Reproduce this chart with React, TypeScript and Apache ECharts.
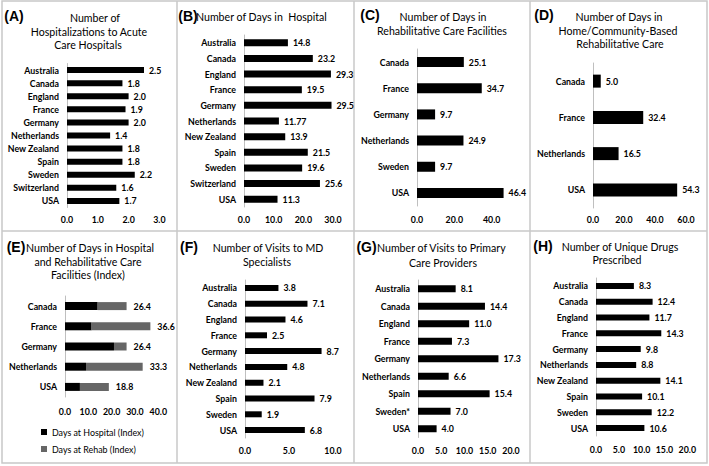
import React, { useEffect, useRef } from "react";
import * as echarts from "echarts";

// ---------- data ----------
const catsA = ["Australia", "Canada", "England", "France", "Germany", "Netherlands", "New Zealand", "Spain", "Sweden", "Switzerland", "USA"];
const hospitalizations = [2.5, 1.8, 2.0, 1.9, 2.0, 1.4, 1.8, 1.8, 2.2, 1.6, 1.7];

const catsB = ["Australia", "Canada", "England", "France", "Germany", "Netherlands", "New Zealand", "Spain", "Sweden", "Switzerland", "USA"];
const hospitalDays = [14.8, 23.2, 29.3, 19.5, 29.5, 11.77, 13.9, 21.5, 19.6, 25.6, 11.3];

const catsC = ["Canada", "France", "Germany", "Netherlands", "Sweden", "USA"];
const rehabFacilityDays = [25.1, 34.7, 9.7, 24.9, 9.7, 46.4];

const catsD = ["Canada", "France", "Netherlands", "USA"];
const homeRehabDays = [5.0, 32.4, 16.5, 54.3];

const catsE = ["Canada", "France", "Germany", "Netherlands", "USA"];
const hospIndex = [14.0, 11.4, 21.0, 9.0, 6.4];
const rehabIndex = [12.4, 25.2, 5.4, 24.3, 12.4];
const totalIndex = [26.4, 36.6, 26.4, 33.3, 18.8];
const seriesNamesE = ["Days at Hospital (Index)", "Days at Rehab (Index)"];

const catsF = ["Australia", "Canada", "England", "France", "Germany", "Netherlands", "New Zealand", "Spain", "Sweden", "USA"];
const specialistVisits = [3.8, 7.1, 4.6, 2.5, 8.7, 4.8, 2.1, 7.9, 1.9, 6.8];

const catsG = ["Australia", "Canada", "England", "France", "Germany", "Netherlands", "Spain", "Sweden*", "USA"];
const primaryVisits = [8.1, 14.4, 11.0, 7.3, 17.3, 6.6, 15.4, 7.0, 4.0];

const catsH = ["Australia", "Canada", "England", "France", "Germany", "Netherlands", "New Zealand", "Spain", "Sweden", "USA"];
const uniqueDrugs = [8.3, 12.4, 11.7, 14.3, 9.8, 8.8, 14.1, 10.1, 12.2, 10.6];

// ---------- styling ----------
const FAMILY = "Lato, 'Liberation Sans', sans-serif";
const LETTER_FONT = "bold 14px 'Liberation Sans', Arial, sans-serif";
const TITLE_SIZE = 12;

function measure(text: string, weight: string, size: number) {
  const c = document.createElement("canvas").getContext("2d");
  if (!c) return text.length * size * 0.5;
  c.font = `${weight} ${size}px ${FAMILY}`;
  return c.measureText(text).width;
}

type Panel = {
  cats: string[];
  grid: { left: number; top: number; width: number; height: number };
  max: number;
  interval: number;
  labelEvery: number;
  labelMargin: number;
  barWidth: number;
};

const panels: Panel[] = [
  { cats: catsA, grid: { left: 67, top: 63.5, width: 92.4, height: 144 }, max: 3, interval: 1, labelEvery: 1, labelMargin: 7.5, barWidth: 6 },
  { cats: catsB, grid: { left: 244, top: 35, width: 89, height: 172 }, max: 30, interval: 10, labelEvery: 10, labelMargin: 8, barWidth: 7 },
  { cats: catsC, grid: { left: 417, top: 49, width: 93.3, height: 157 }, max: 50, interval: 10, labelEvery: 20, labelMargin: 9, barWidth: 10 },
  { cats: catsD, grid: { left: 593, top: 63, width: 93, height: 145 }, max: 60, interval: 20, labelEvery: 20, labelMargin: 7, barWidth: 13 },
  { cats: catsE, grid: { left: 65, top: 296, width: 93.3, height: 101 }, max: 40, interval: 10, labelEvery: 10, labelMargin: 10, barWidth: 8 },
  { cats: catsF, grid: { left: 245, top: 280, width: 88, height: 158 }, max: 10, interval: 5, labelEvery: 5, labelMargin: 8, barWidth: 6 },
  { cats: catsG, grid: { left: 418, top: 280, width: 93, height: 157.5 }, max: 20, interval: 5, labelEvery: 5, labelMargin: 8.5, barWidth: 7 },
  { cats: catsH, grid: { left: 596, top: 278, width: 91.3, height: 158 }, max: 20, interval: 5, labelEvery: 5, labelMargin: 9, barWidth: 6 },
];

const fmtVal = (v: number) => (Math.round(v * 10) / 10 === v ? v.toFixed(1) : String(v));

// title texts: [text, x, y, align]
const titleLines: [string, number, number, string][] = [
  ["Number of", 95, 17, "center"],
  ["Hospitalizations to Acute", 89, 31.5, "center"],
  ["Care Hospitals", 88, 44.5, "center"],
  ["Number of Days in  Hospital", 196, 16, "left"],
  ["Number of Days in", 443, 16, "center"],
  ["Rehabilitative Care Facilities", 442, 30, "center"],
  ["Number of Days in", 619, 16, "center"],
  ["Home/Community-Based", 618, 30, "center"],
  ["Rehabilitative Care", 620, 43, "center"],
  ["Number of Days in Hospital", 26, 247, "left"],
  ["and Rehabilitative Care", 88, 261, "center"],
  ["Facilities (Index)", 88, 274, "center"],
  ["Number of Visits to MD", 268, 247, "center"],
  ["Specialists", 267, 261, "center"],
  ["Number of Visits to Primary", 377, 247, "left"],
  ["Care Providers", 443, 262, "center"],
  ["Number of Unique Drugs", 620, 246, "center"],
  ["Prescribed", 617, 259, "center"],
];

const letters: [string, number, number][] = [
  ["(A)", 14, 16],
  ["(B)", 188, 16],
  ["(C)", 370, 15],
  ["(D)", 544, 15],
  ["(E)", 16, 247],
  ["(F)", 189, 247],
  ["(G)", 366.5, 247],
  ["(H)", 543, 246],
];

function buildOption() {
  // fit font sizes to the widths seen in the reference
  const labelSize = Math.min(11, (48 / measure("Netherlands", "bold", 100)) * 100);
  const legendSize = Math.min(11, (92 / measure("Days at Hospital (Index)", "normal", 100)) * 100);
  const titleScale = Math.min(1, 130 / measure("Rehabilitative Care Facilities", "normal", TITLE_SIZE));

  const valueLabel = {
    show: true,
    position: "right" as const,
    distance: 5,
    fontFamily: FAMILY,
    fontWeight: "bold" as const,
    fontSize: labelSize,
    color: "#000",
  };

  const grid = panels.map((p) => ({ ...p.grid }));
  const xAxis = panels.map((p, i) => ({
    type: "value",
    gridIndex: i,
    min: 0,
    max: p.max,
    interval: p.interval,
    axisLine: { show: false },
    axisTick: { show: false },
    splitLine: { show: false },
    axisLabel: {
      fontFamily: FAMILY,
      fontWeight: "bold",
      fontSize: labelSize,
      color: "#000",
      margin: p.labelMargin,
      formatter: (v: number) => (Math.abs(v / p.labelEvery - Math.round(v / p.labelEvery)) < 1e-6 ? v.toFixed(1) : ""),
    },
  }));
  const yAxis = panels.map((p, i) => ({
    type: "category",
    gridIndex: i,
    data: p.cats,
    inverse: true,
    axisLine: { show: true, lineStyle: { color: "#bfbfbf", width: 1 } },
    axisTick: { show: false },
    axisLabel: { interval: 0, fontFamily: FAMILY, fontWeight: "bold", fontSize: labelSize, color: "#000", margin: 8 },
  }));

  const simple: [number, number[]][] = [
    [0, hospitalizations],
    [1, hospitalDays],
    [2, rehabFacilityDays],
    [3, homeRehabDays],
    [5, specialistVisits],
    [6, primaryVisits],
    [7, uniqueDrugs],
  ];
  const series: any[] = simple.map(([i, data]) => ({
    type: "bar",
    xAxisIndex: i,
    yAxisIndex: i,
    data,
    barWidth: panels[i].barWidth,
    itemStyle: { color: "#000" },
    label: { ...valueLabel, formatter: (pp: any) => fmtVal(pp.value) },
  }));
  series.push({
    type: "bar",
    name: seriesNamesE[0],
    xAxisIndex: 4,
    yAxisIndex: 4,
    stack: "E",
    data: hospIndex,
    barWidth: panels[4].barWidth,
    itemStyle: { color: "#000" },
  });
  series.push({
    type: "bar",
    name: seriesNamesE[1],
    xAxisIndex: 4,
    yAxisIndex: 4,
    stack: "E",
    data: rehabIndex,
    barWidth: panels[4].barWidth,
    itemStyle: { color: "#666666" },
    label: { ...valueLabel, distance: 7, formatter: (pp: any) => totalIndex[pp.dataIndex].toFixed(1) },
  });

  const border = "#c8c8c8";
  const graphic: any[] = [
    { type: "rect", shape: { x: 2, y: 1, width: 705, height: 462 }, style: { fill: "none", stroke: border, lineWidth: 1.5 } },
    { type: "line", shape: { x1: 177, y1: 1, x2: 177, y2: 463 }, style: { stroke: border, lineWidth: 1.5 } },
    { type: "line", shape: { x1: 354, y1: 1, x2: 354, y2: 463 }, style: { stroke: border, lineWidth: 1.5 } },
    { type: "line", shape: { x1: 530, y1: 1, x2: 530, y2: 463 }, style: { stroke: border, lineWidth: 1.5 } },
    { type: "line", shape: { x1: 2, y1: 231, x2: 707, y2: 231 }, style: { stroke: border, lineWidth: 1.5 } },
  ];
  titleLines.forEach(([t, x, y, a]) =>
    graphic.push({
      type: "text",
      x,
      y,
      scaleX: titleScale,
      style: {
        text: t,
        font: `${TITLE_SIZE}px ${FAMILY}`,
        fill: "#000",
        textAlign: a,
        align: a,
        textVerticalAlign: "middle",
        verticalAlign: "middle",
      },
    })
  );
  letters.forEach(([t, x, y]) =>
    graphic.push({
      type: "text",
      x,
      y,
      style: { text: t, font: LETTER_FONT, fill: "#000", textAlign: "center", align: "center", textVerticalAlign: "middle", verticalAlign: "middle" },
    })
  );

  return {
    animation: false,
    backgroundColor: "#fff",
    grid,
    xAxis,
    yAxis,
    series,
    legend: {
      data: seriesNamesE,
      orient: "vertical",
      left: 41,
      top: 426,
      padding: 0,
      itemWidth: 6,
      itemHeight: 6,
      itemGap: 5,
      icon: "rect",
      textStyle: { fontFamily: FAMILY, fontSize: legendSize, color: "#000", lineHeight: 12 },
    },
    graphic,
  };
}

export default function App() {
  const ref = useRef<HTMLDivElement>(null);
  useEffect(() => {
    if (!ref.current) return;
    const chart = echarts.init(ref.current, undefined, { renderer: "svg" });
    chart.setOption(buildOption() as any);
    return () => chart.dispose();
  }, []);
  return <div ref={ref} style={{ position: "fixed", left: 0, top: 0, width: 709, height: 466 }} />;
}
